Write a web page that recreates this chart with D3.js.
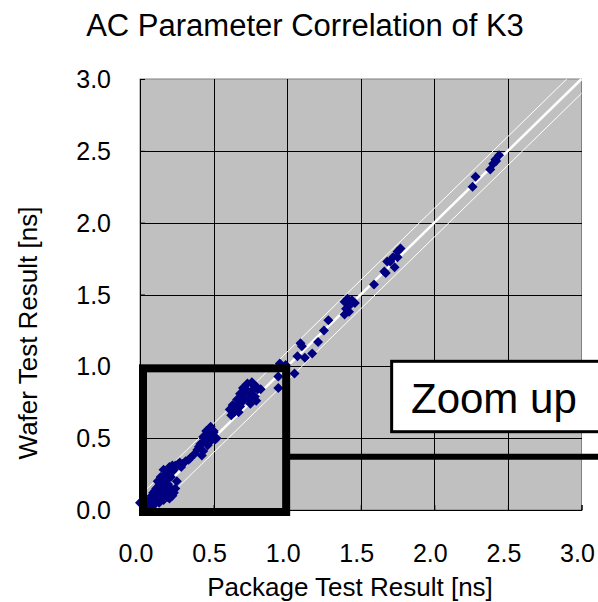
<!DOCTYPE html>
<html>
<head>
<meta charset="utf-8">
<script src="https://cdn.jsdelivr.net/npm/d3@7"></script>
<style>
  html, body { margin: 0; padding: 0; background: #fff; }
  svg { display: block; font-family: "Liberation Sans", Arial, sans-serif; }
</style>
</head>
<body>
<div id="chart"></div>
<script>
// package vs wafer AC parameter
const pkg = [
  0.00, 0.04, 0.05, 0.06, 0.08, 0.09, 0.11, 0.07, 0.13, 0.15, 0.16, 0.10, 0.09, 0.13, 0.17, 0.19, 0.20,
  0.22, 0.11, 0.14, 0.18, 0.20, 0.23, 0.24, 0.15, 0.12, 0.19, 0.25, 0.18, 0.14, 0.21, 0.17, 0.22, 0.16,
  0.23, 0.20, 0.24, 0.28, 0.27, 0.31, 0.34,
  0.03, 0.08, 0.12, 0.16, 0.21, 0.10, 0.13, 0.17, 0.15, 0.19, 0.22, 0.26, 0.29, 0.33,
  0.37, 0.42, 0.39, 0.43, 0.41, 0.46, 0.45, 0.49, 0.51, 0.43, 0.48, 0.45, 0.50, 0.52,
  0.40, 0.44, 0.47, 0.50, 0.47,
  0.61, 0.62, 0.63, 0.67, 0.68, 0.66, 0.71, 0.68, 0.70, 0.73, 0.75, 0.75, 0.77, 0.78, 0.80, 0.72, 0.76, 0.79,
  0.65, 0.70, 0.73, 0.77, 0.74, 0.79, 0.64, 0.69, 0.82, 0.76,
  0.94, 0.94, 0.95, 0.99, 0.99, 1.05, 1.07, 1.09, 1.10, 1.12, 1.17, 1.21, 1.25, 1.28,
  1.39, 1.40, 1.41, 1.42, 1.44, 1.46, 1.42, 1.39,
  1.59, 1.66, 1.67, 1.68, 1.70, 1.72, 1.73, 1.75, 1.75, 1.77,
  2.26, 2.28, 2.38, 2.40, 2.42, 2.415, 2.44
];
const wafer = [
  0.05, 0.06, 0.02, 0.05, 0.05, 0.03, 0.06, 0.08, 0.05, 0.09, 0.07, 0.09, 0.12, 0.10, 0.13, 0.09, 0.08,
  0.10, 0.15, 0.13, 0.11, 0.16, 0.12, 0.15, 0.17, 0.20, 0.18, 0.20, 0.21, 0.23, 0.23, 0.24, 0.27, 0.28,
  0.28, 0.30, 0.31, 0.30, 0.33, 0.34, 0.36,
  0.03, 0.10, 0.08, 0.11, 0.13, 0.13, 0.17, 0.16, 0.20, 0.25, 0.31, 0.32, 0.32, 0.35,
  0.39, 0.38, 0.42, 0.41, 0.46, 0.45, 0.51, 0.50, 0.49, 0.51, 0.58, 0.55, 0.54, 0.50,
  0.44, 0.48, 0.53, 0.55, 0.47,
  0.70, 0.66, 0.73, 0.68, 0.72, 0.77, 0.77, 0.81, 0.85, 0.88, 0.81, 0.74, 0.87, 0.79, 0.84, 0.83, 0.80, 0.76,
  0.72, 0.79, 0.83, 0.84, 0.77, 0.86, 0.68, 0.75, 0.84, 0.89,
  0.93, 0.85, 1.02, 1.01, 1.00, 0.95, 1.07, 1.16, 1.14, 1.06, 1.09, 1.17, 1.25, 1.32,
  1.45, 1.40, 1.47, 1.38, 1.46, 1.44, 1.42, 1.36,
  1.57, 1.66, 1.65, 1.73, 1.73, 1.76, 1.69, 1.76, 1.80, 1.82,
  2.25, 2.32, 2.37, 2.41, 2.43, 2.44, 2.47
];
const ticks = [0, 0.5, 1.0, 1.5, 2.0, 2.5, 3.0];
const band = 0.1;          // +-0.1 ns guide lines
const zoomBox = [0, 1];    // highlighted region
const calloutY = 0.37;     // leader line level
const calloutBox = { x0: 1.71, y0: 0.545, y1: 1.035 };

const W = 598, H = 602;
const x = d3.scaleLinear().domain([0, 3]).range([140, 581.5]);
const y = d3.scaleLinear().domain([0, 3]).range([510, 79]);

const svg = d3.select("#chart").append("svg").attr("width", W).attr("height", H);

// plot area
svg.append("rect").attr("x", x(0)).attr("y", y(3)).attr("width", x(3) - x(0)).attr("height", y(0) - y(3))
  .attr("fill", "#c0c0c0").attr("stroke", "#808080").attr("stroke-width", 1);

// grid
const grid = svg.append("g").attr("stroke", "#000").attr("stroke-width", 1).attr("shape-rendering", "crispEdges");
grid.selectAll(".gx").data(ticks.slice(1, -1)).join("line")
  .attr("x1", (d) => Math.round(x(d)) + 0.5).attr("x2", (d) => Math.round(x(d)) + 0.5)
  .attr("y1", y(3)).attr("y2", y(0));
grid.selectAll(".gy").data(ticks.slice(1, -1)).join("line").attr("class", "gy")
  .attr("y1", (d) => Math.round(y(d)) + 0.5).attr("y2", (d) => Math.round(y(d)) + 0.5)
  .attr("x1", x(0)).attr("x2", x(3));

// axes (ticks inside)
svg.append("g").attr("transform", `translate(0,${y(0)})`)
  .call(d3.axisBottom(x).tickValues(ticks).tickSize(-5).tickFormat(""))
  .call((g) => g.selectAll("path,line").attr("stroke", "#000"));
svg.append("g").attr("transform", `translate(${x(0)},0)`)
  .call(d3.axisLeft(y).tickValues(ticks).tickSize(-5).tickFormat(""))
  .call((g) => g.selectAll("path,line").attr("stroke", "#000"));

// tick labels
const fmt = d3.format(".1f");
svg.append("g").selectAll("text").data(ticks).join("text")
  .attr("x", (d) => x(d) - 4).attr("y", 562).attr("text-anchor", "middle")
  .attr("font-size", 25).text(fmt);
svg.append("g").selectAll("text").data(ticks).join("text")
  .attr("x", 111).attr("y", (d) => y(d) + 9).attr("text-anchor", "end")
  .attr("font-size", 25).text(fmt);

// y = x and +-band guides
const guides = [
  { d: 0, w: 2.5 },
  { d: band, w: 1 },
  { d: -band, w: 1 }
];
const clip = (d) => [[Math.max(0, -d), Math.max(0, d)], [Math.min(3, 3 - d), Math.min(3, 3 + d)]];
svg.append("g").selectAll("line").data(guides).join("line")
  .attr("x1", (g) => x(clip(g.d)[0][0])).attr("y1", (g) => y(clip(g.d)[0][1]))
  .attr("x2", (g) => x(clip(g.d)[1][0])).attr("y2", (g) => y(clip(g.d)[1][1]))
  .attr("stroke", "#fff").attr("stroke-width", (g) => g.w);

// points
const sym = d3.symbol().type(d3.symbolSquare).size(50);
svg.append("g").selectAll("path").data(pkg.map((p, i) => [p, wafer[i]])).join("path")
  .attr("d", sym).attr("fill", "#000080")
  .attr("transform", (d) => `translate(${x(d[0])},${y(d[1])}) rotate(45)`);

// zoom region box + leader
svg.append("rect")
  .attr("x", x(zoomBox[0]) + 3).attr("y", y(zoomBox[1]) + 2)
  .attr("width", x(zoomBox[1]) - x(zoomBox[0]) - 4).attr("height", y(zoomBox[0]) - y(zoomBox[1]))
  .attr("fill", "none").attr("stroke", "#000").attr("stroke-width", 8);
svg.append("line").attr("x1", x(zoomBox[1]) + 1).attr("x2", W)
  .attr("y1", y(calloutY)).attr("y2", y(calloutY)).attr("stroke", "#000").attr("stroke-width", 6);

// callout
svg.append("rect").attr("x", x(calloutBox.x0)).attr("y", y(calloutBox.y1))
  .attr("width", W - x(calloutBox.x0) + 10).attr("height", y(calloutBox.y0) - y(calloutBox.y1))
  .attr("fill", "#fff").attr("stroke", "#000").attr("stroke-width", 3);
svg.append("text").attr("x", 411).attr("y", 413).attr("font-size", 42).text("Zoom up");

// titles
svg.append("text").attr("x", 305).attr("y", 36).attr("text-anchor", "middle")
  .attr("font-size", 31).text("AC Parameter Correlation of K3");
svg.append("text").attr("x", 350).attr("y", 596).attr("text-anchor", "middle")
  .attr("font-size", 26).text("Package Test Result [ns]");
svg.append("text").attr("transform", "translate(37,333) rotate(-90)").attr("text-anchor", "middle")
  .attr("font-size", 26).text("Wafer Test Result [ns]");
</script>
</body>
</html>
